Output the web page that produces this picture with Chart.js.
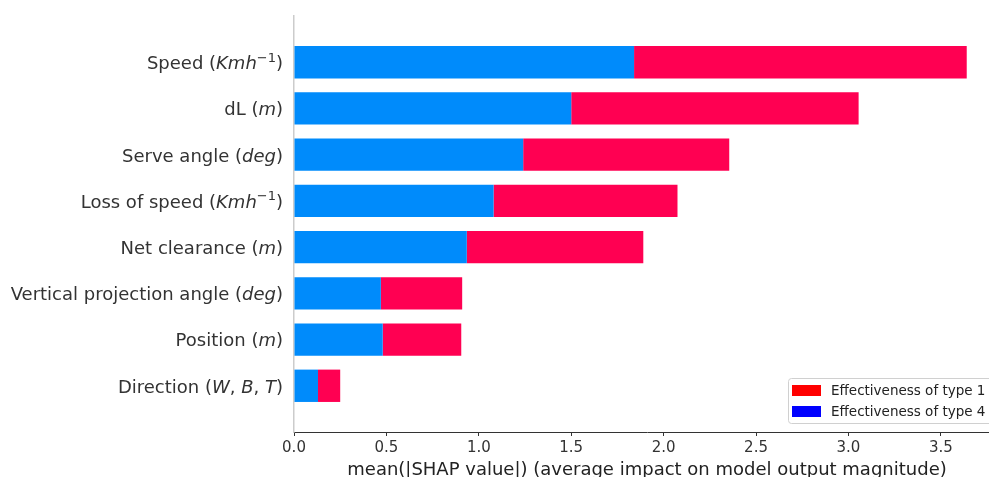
<!DOCTYPE html>
<html>
<head>
<meta charset="utf-8">
<script src="https://cdn.jsdelivr.net/npm/chart.js@4.4.1/dist/chart.umd.min.js"></script>
<style>
  html, body { margin: 0; padding: 0; background: #fff; overflow: hidden; }
  #wrap { position: relative; width: 1002px; height: 477px; }
</style>
</head>
<body>
<div id="wrap"><canvas id="c"></canvas></div>
<script>
// ---- data ----
const categories = [
  'Speed ($Kmh^{−1}$)',
  'dL ($m$)',
  'Serve angle ($deg$)',
  'Loss of speed ($Kmh^{−1}$)',
  'Net clearance ($m$)',
  'Vertical projection angle ($deg$)',
  'Position ($m$)',
  'Direction ($W, B, T$)'
];
const type4Values = [1.84, 1.50, 1.24, 1.08, 0.935, 0.47, 0.48, 0.13];
const type1Values = [1.80, 1.555, 1.115, 0.995, 0.955, 0.44, 0.425, 0.12];
const seriesNames = ['Effectiveness of type 4', 'Effectiveness of type 1'];
const barColors = ['#008bfb', '#ff0052'];
const legendColors = ['#0000ff', '#ff0000'];
const xTickMax = 3.82;
const xTitle = 'mean(|SHAP value|) (average impact on model output magnitude)';

// pad one empty category above and below (matplotlib-style margins)
const labels = [''].concat(categories, ['']);
const pad = arr => [null].concat(arr, [null]);

const FONT = '"DejaVu Sans", "Liberation Sans", sans-serif';
const TEXT = '#333333';

// rich label parser: $...$ italic, ^{..} superscript, commas upright
function parseLabel(s) {
  const segs = [];
  let math = false;
  let i = 0;
  let buf = '';
  const flush = (style) => { if (buf) { segs.push({ t: buf, style }); buf = ''; } };
  while (i < s.length) {
    const ch = s[i];
    if (ch === '$') { flush(math ? 'it' : 'rm'); math = !math; i++; continue; }
    if (math && ch === '^' && s[i + 1] === '{') {
      flush('it');
      const end = s.indexOf('}', i);
      segs.push({ t: s.slice(i + 2, end), style: 'sup' });
      i = end + 1; continue;
    }
    if (math && ch === ',') { flush('it'); segs.push({ t: ', ', style: 'rm' }); i++; if (s[i] === ' ') i++; continue; }
    buf += ch; i++;
  }
  flush(math ? 'it' : 'rm');
  return segs;
}

const yLabelPlugin = {
  id: 'yLabels',
  afterDraw(chart) {
    const ctx = chart.ctx;
    const y = chart.scales.y;
    const size = 18;
    const fonts = {
      rm: `${size}px ${FONT}`,
      it: `italic ${size}px ${FONT}`,
      sup: `${Math.round(size * 0.7)}px ${FONT}`
    };
    const xRight = chart.chartArea.left - 11;
    ctx.save();
    ctx.fillStyle = TEXT;
    ctx.textBaseline = 'alphabetic';
    ctx.textAlign = 'left';
    categories.forEach((lab, idx) => {
      const segs = parseLabel(lab);
      let total = 0;
      segs.forEach(sg => { ctx.font = fonts[sg.style]; sg.w = ctx.measureText(sg.t).width; total += sg.w; });
      let x = xRight - total;
      const yc = y.getPixelForValue(idx + 1);
      const base = yc + size * 0.38;
      segs.forEach(sg => {
        ctx.font = fonts[sg.style];
        ctx.fillText(sg.t, x, sg.style === 'sup' ? base - size * 0.42 : base);
        x += sg.w;
      });
    });
    ctx.restore();
  }
};

const legendPlugin = {
  id: 'boxLegend',
  afterDraw(chart) {
    const ctx = chart.ctx;
    const area = chart.chartArea;
    const size = 13.5;
    ctx.save();
    ctx.font = `${size}px ${FONT}`;
    const order = [1, 0];
    let tw = 0;
    order.forEach(i => { tw = Math.max(tw, ctx.measureText(chart.data.datasets[i].label).width); });
    const sw = 29, gap = 10, padL = 4, padR = 8, rowH = 21;
    const w = padL + sw + gap + tw + padR;
    const h = 45;
    const left = area.right - 212;
    const top = area.bottom - 54;
    ctx.fillStyle = 'rgba(255,255,255,0.85)';
    ctx.strokeStyle = '#d0d0d0';
    ctx.lineWidth = 1;
    ctx.beginPath();
    ctx.roundRect(left + 0.5, top + 0.5, w, h, 3);
    ctx.fill();
    ctx.stroke();
    order.forEach((i, r) => {
      const cy = top + 12.5 + r * rowH;
      ctx.fillStyle = legendColors[i];
      ctx.fillRect(left + padL, cy - 5.5, sw, 11);
      ctx.fillStyle = '#222';
      ctx.textBaseline = 'middle';
      ctx.fillText(chart.data.datasets[i].label, left + padL + sw + gap, cy + 1);
    });
    ctx.restore();
  }
};

new Chart(document.getElementById('c'), {
  type: 'bar',
  data: {
    labels: labels,
    datasets: [
      { label: seriesNames[0], data: pad(type4Values), backgroundColor: barColors[0], borderWidth: 0 },
      { label: seriesNames[1], data: pad(type1Values), backgroundColor: barColors[1], borderWidth: 0 }
    ]
  },
  options: {
    indexAxis: 'y',
    responsive: true,
    maintainAspectRatio: false,
    animation: false,
    layout: { padding: { top: 16, right: 2, left: 0, bottom: 0 } },
    datasets: { bar: { barPercentage: 0.7, categoryPercentage: 1.0 } },
    plugins: { legend: { display: false }, tooltip: { enabled: false } },
    scales: {
      x: {
        stacked: true,
        min: 0,
        max: xTickMax,
        afterFit(s) { s.height = 45; },
        border: { display: true, color: '#333', width: 1 },
        grid: { display: true, drawOnChartArea: false, drawTicks: true, tickLength: 4, tickColor: '#333' },
        ticks: { stepSize: 0.5, includeBounds: false, padding: 3, color: TEXT,
                 font: { family: FONT, size: 15 },
                 callback: v => Number(v).toFixed(1) },
        title: { display: true, text: xTitle, color: '#222', font: { family: FONT, size: 18 }, padding: { top: 0, bottom: -4 } }
      },
      y: {
        stacked: true,
        offset: false,
        afterFit(s) { s.width = 294; },
        border: { display: true, color: '#cccccc', width: 1.5 },
        grid: { display: false },
        ticks: { display: false }
      }
    }
  },
  plugins: [yLabelPlugin, legendPlugin]
});
</script>
</body>
</html>
